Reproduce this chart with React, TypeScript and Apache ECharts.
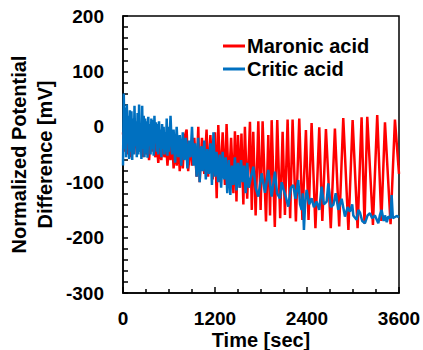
import React, { useEffect, useRef } from "react";
import * as echarts from "echarts";

// [time (sec), normalized potential difference (mV)]
const maronicAcid: [number, number][] = [
  [0, -10], [20, -45], [40, -20], [60, -50], [80, -15], [100, -55], [120, -25], [140, -40], [160, -10], [180, -50],
  [200, -20], [220, -45], [240, -15], [260, -55], [280, -20], [300, -50], [320, -25], [340, -60], [360, -20], [380, -45],
  [400, -15], [420, -55], [440, -25], [460, -65], [480, -30], [500, -60], [520, -20], [540, -55], [560, -25], [580, -70],
  [600, -30], [620, -60], [640, -20], [660, -75], [680, -35], [700, -70], [720, -25], [740, -80], [760, -30], [780, -75],
  [800, -20], [830, -5], [850, -80], [880, -30], [900, -70], [930, -20], [960, -90], [982, 0], [1000, -100], [1030, -20],
  [1060, -85], [1090, -5], [1110, -90], [1140, -15], [1170, -95], [1200, -10], [1222, -129], [1243, 3], [1270, -100], [1300, -10],
  [1330, -105], [1351, 5], [1380, -110], [1410, -20], [1440, -120], [1460, -8], [1480, -135], [1500, -15], [1525, -110], [1545, -12],
  [1570, -140], [1590, 0], [1620, -130], [1656, 9], [1680, -150], [1699, -9], [1730, -160], [1765, 10], [1795, -150], [1821, 10],
  [1865, -171], [1895, -15], [1918, -160], [1939, 12], [1980, -181], [2012, 12], [2050, -165], [2082, -9], [2112, -159], [2147, 13],
  [2180, -165], [2212, 13], [2255, -171], [2299, 15], [2340, -168], [2386, -6], [2420, -168], [2460, 7], [2510, -183], [2560, -1],
  [2600, -170], [2647, -4], [2710, -183], [2764, -3], [2820, -180], [2873, 16], [2940, -186], [2995, 12], [3060, -183], [3112, 17],
  [3150, -175], [3186, 18], [3260, -177], [3316, 21], [3370, -170], [3417, 8], [3490, -176], [3547, 13], [3600, -85],
];

const criticAcid: [number, number][] = [
  [0, -70], [10, 60], [20, -40], [30, 35], [40, -55], [50, 40], [60, -30], [70, 20], [80, -58], [90, 30],
  [100, -45], [110, 28], [120, -60], [130, 15], [140, -50], [150, 38], [160, -35], [170, 10], [180, -55], [190, 25],
  [200, -50], [210, 40], [220, -45], [230, 5], [240, -58], [250, 38], [260, -40], [270, 20], [280, -55], [290, 15],
  [300, -48], [310, 10], [320, -56], [330, 18], [340, -35], [350, 5], [360, -50], [370, 15], [380, -40], [390, 12],
  [400, -52], [410, 20], [420, -30], [430, 8], [440, -45], [450, 5], [460, -50], [470, 10], [480, -38], [490, -5],
  [500, -55], [510, 5], [520, -40], [530, 0], [540, -50], [550, -10], [560, -45], [570, 15], [580, -52], [590, 0],
  [600, -45], [620, 20], [640, -50], [660, -5], [680, -65], [700, 0], [720, -55], [740, -15], [760, -70], [780, -10],
  [800, -60], [820, -20], [840, -75], [860, -25], [880, -55], [900, 0], [920, -70], [940, -30], [960, -90], [980, -20],
  [1000, -100], [1020, -35], [1040, -80], [1060, -25], [1080, -95], [1100, -40], [1120, -85], [1140, -30], [1160, -105], [1180, -10],
  [1200, -90], [1220, -45], [1240, -100], [1260, -50], [1280, -110], [1300, -45], [1320, -95], [1340, -55], [1360, -120], [1380, -60],
  [1400, -123], [1420, -70], [1440, -105], [1460, -55], [1480, -115], [1500, -65], [1520, -110], [1540, -60], [1560, -100], [1580, -70],
  [1600, -120], [1620, -65], [1640, -110], [1656, -99], [1700, -72], [1730, -110], [1765, -126], [1808, -84], [1852, -119], [1895, -78],
  [1939, -126], [1982, -81], [2010, -120], [2047, -129], [2070, -100], [2091, -111], [2120, -125], [2156, -144], [2190, -110], [2221, -105],
  [2250, -130], [2286, -96], [2310, -140], [2330, -150], [2345, -120], [2360, -186], [2375, -140], [2395, -114], [2430, -140], [2460, -129],
  [2490, -145], [2525, -135], [2560, -150], [2591, -108], [2620, -140], [2656, -135], [2678, -102], [2710, -145], [2743, -141], [2775, -120],
  [2808, -150], [2852, -130], [2895, -162], [2930, -145], [2960, -153], [2990, -140], [3004, -160], [3047, -168], [3070, -150], [3091, -155],
  [3120, -170], [3156, -174], [3190, -160], [3221, -156], [3250, -165], [3286, -160], [3330, -174], [3350, -160], [3373, -150], [3400, -170],
  [3417, -160], [3440, -172], [3460, -162], [3490, -165], [3504, -123], [3520, -165], [3569, -161], [3600, -163],
];

const seriesNames = ["Maronic acid", "Critic acid"];
const seriesColors = ["#FF0000", "#0070C0"];

const FONT = "'Liberation Sans', Arial, sans-serif";

export default function App() {
  const ref = useRef<HTMLDivElement>(null);
  useEffect(() => {
    if (!ref.current) return;
    const chart = echarts.init(ref.current, undefined, { renderer: "svg" });
    chart.setOption({
      animation: false,
      textStyle: { fontFamily: FONT },
      grid: {
        left: 123,
        right: 24,
        top: 16,
        bottom: 57,
        show: true,
        borderColor: "#000",
        borderWidth: 1.5,
        backgroundColor: "transparent",
        outerBoundsMode: "none",
        containLabel: false,
      },
      legend: {
        orient: "vertical",
        left: 223,
        top: 36,
        padding: 0,
        icon: "rect",
        itemWidth: 22,
        itemHeight: 3,
        itemGap: 3,
        data: seriesNames,
        textStyle: {
          color: "#000",
          fontSize: 20,
          fontWeight: "bold",
          fontFamily: FONT,
          lineHeight: 20,
          padding: [0, 0, 0, -3],
        },
      },
      xAxis: {
        type: "value",
        min: 0,
        max: 3600,
        interval: 1200,
        name: "Time [sec]",
        nameLocation: "middle",
        nameGap: 37,
        nameMoveOverlap: false,
        nameTextStyle: { color: "#000", fontSize: 20, fontWeight: "bold", fontFamily: FONT, lineHeight: 20 },
        axisLine: { show: true, onZero: false, lineStyle: { color: "#000", width: 1.5 } },
        axisTick: { show: true, inside: true, length: 6, lineStyle: { color: "#000", width: 1.5 } },
        minorTick: { show: true, splitNumber: 4, length: 4, lineStyle: { color: "#000", width: 1.5 } },
        splitLine: { show: false },
        axisLabel: {
          color: "#000",
          fontSize: 19,
          fontWeight: "bold",
          fontFamily: FONT,
          margin: 16,
          formatter: (v: number) => String(v),
        },
      },
      yAxis: {
        type: "value",
        min: -300,
        max: 200,
        interval: 100,
        name: "Normalized Potential\nDifference [mV]",
        nameLocation: "middle",
        nameGap: 65,
        nameMoveOverlap: false,
        nameTextStyle: { color: "#000", fontSize: 20, fontWeight: "bold", fontFamily: FONT, lineHeight: 26 },
        axisLine: { show: true, onZero: false, lineStyle: { color: "#000", width: 1.5 } },
        axisTick: { show: true, inside: true, length: 5, lineStyle: { color: "#000", width: 1.5 } },
        minorTick: { show: true, splitNumber: 5, length: 5, lineStyle: { color: "#000", width: 1.5 } },
        splitLine: { show: false },
        axisLabel: {
          color: "#000",
          fontSize: 19,
          fontWeight: "bold",
          fontFamily: FONT,
          margin: 19,
          formatter: (v: number) => String(v),
        },
      },
      series: [
        {
          name: seriesNames[0],
          type: "line",
          data: maronicAcid,
          symbol: "none",
          color: seriesColors[0],
          lineStyle: { color: seriesColors[0], width: 2.5 },
        },
        {
          name: seriesNames[1],
          type: "line",
          data: criticAcid,
          symbol: "none",
          color: seriesColors[1],
          lineStyle: { color: seriesColors[1], width: 2.5 },
        },
      ],
    });
    return () => chart.dispose();
  }, []);
  return (
    <div
      ref={ref}
      style={{ position: "absolute", left: 0, top: 0, width: 423, height: 350, background: "#fff" }}
    />
  );
}
